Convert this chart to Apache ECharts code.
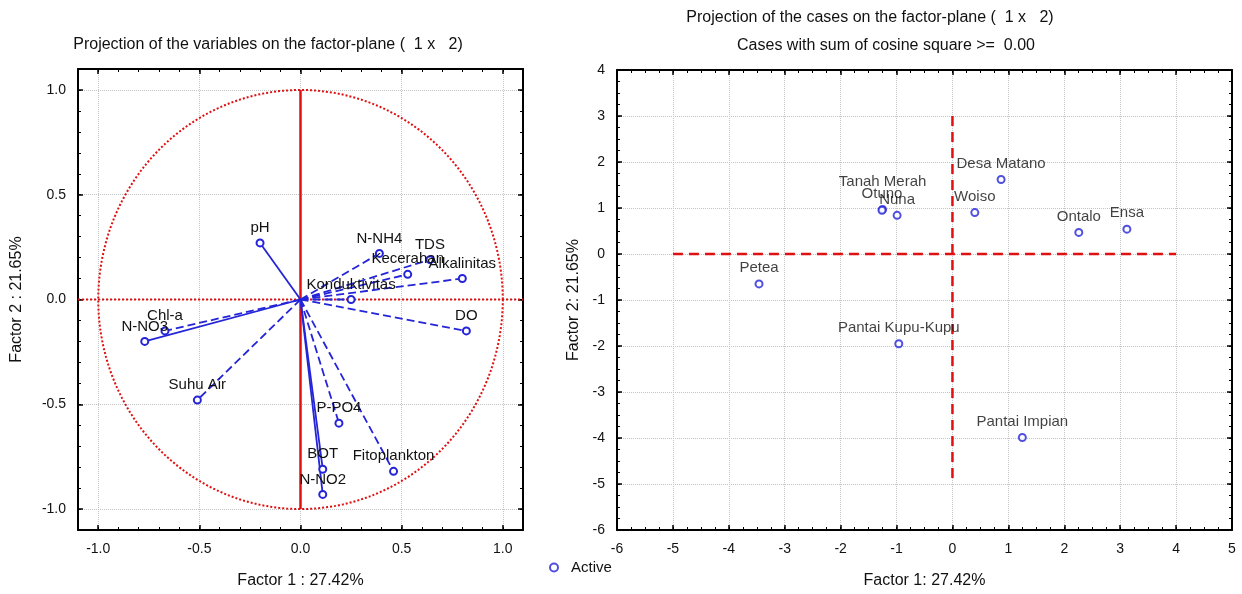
<!DOCTYPE html>
<html>
<head>
<meta charset="utf-8">
<script src="https://cdn.jsdelivr.net/npm/echarts@6/dist/echarts.min.js"></script>
<style>
  html, body { margin: 0; padding: 0; background: #fff; }
  #chart { width: 1242px; height: 594px; }
</style>
</head>
<body>
<div id="chart"></div>
<script>
// variables plot (factor loadings)
const varNames = ['pH', 'N-NH4', 'TDS', 'Kecerahan', 'Alkalinitas', 'Konduktivitas', 'DO',
  'Chl-a', 'N-NO3', 'Suhu Air', 'P-PO4', 'BOT', 'N-NO2', 'Fitoplankton'];
const varF1 = [-0.20, 0.39, 0.64, 0.53, 0.80, 0.25, 0.82, -0.67, -0.77, -0.51, 0.19, 0.11, 0.11, 0.46];
const varF2 = [0.27, 0.22, 0.19, 0.12, 0.10, 0.00, -0.15, -0.15, -0.20, -0.48, -0.59, -0.81, -0.93, -0.82];
const solidVars = ['pH', 'N-NO3', 'BOT', 'N-NO2'];

// cases plot (factor scores)
const caseNames = ['Desa Matano', 'Tanah Merah', 'Otuno', 'Nuna', 'Woiso', 'Ontalo', 'Ensa',
  'Petea', 'Pantai Kupu-Kupu', 'Pantai Impian'];
const caseF1 = [0.87, -1.25, -1.26, -0.99, 0.40, 2.26, 3.12, -3.46, -0.96, 1.25];
const caseF2 = [1.62, 0.97, 0.95, 0.84, 0.90, 0.47, 0.54, -0.65, -1.95, -3.99];

// tick labels
const loadTicks = [-1.0, -0.5, 0.0, 0.5, 1.0];
const caseXTicks = [-6, -5, -4, -3, -2, -1, 0, 1, 2, 3, 4, 5];
const caseYTicks = [-6, -5, -4, -3, -2, -1, 0, 1, 2, 3, 4];

const FONT = 'Liberation Sans';
const TXT = '#111';
const BLUE = '#2424d8';
const RED = '#e01010';

function steps(min, max, step) {
  const out = [];
  for (let v = min; v <= max + 1e-9; v += step) out.push(Math.round(v * 1000) / 1000);
  return out;
}

// four axes per dimension: main side (labels, grid lines), its minor ticks, opposite side major + minor
function frameAxes(dim, gi, min, max, majors, minorStep, fmt, name, nameGap) {
  const sides = dim === 'x' ? ['bottom', 'top'] : ['left', 'right'];
  const minors = steps(min, max, minorStep);
  const base = {
    type: 'value', gridIndex: gi, min: min, max: max,
    axisLine: { show: false, onZero: false },
    axisLabel: { show: false }, axisTick: { show: false }, splitLine: { show: false }
  };
  const frameLine = { show: true, onZero: false, lineStyle: { color: '#000', width: 2 } };
  const majorTick = { show: true, inside: true, length: 5, customValues: majors, lineStyle: { color: '#000', width: 1.5 } };
  const minorTick = { show: true, inside: true, length: 3, customValues: minors, lineStyle: { color: '#000', width: 1 } };
  return [
    Object.assign({}, base, {
      position: sides[0], name: name, nameLocation: 'middle', nameGap: nameGap,
      nameTextStyle: { fontFamily: FONT, fontSize: 16, color: TXT },
      axisLine: frameLine, axisTick: majorTick,
      axisLabel: { show: true, customValues: majors, formatter: fmt, margin: 12,
        fontFamily: FONT, fontSize: 14, color: TXT },
      splitLine: { show: true, lineStyle: { type: 'dotted', color: '#c4c4c4', width: 1 } }
    }),
    Object.assign({}, base, { position: sides[0], axisTick: minorTick }),
    Object.assign({}, base, { position: sides[1], axisLine: frameLine, axisTick: majorTick }),
    Object.assign({}, base, { position: sides[1], axisTick: minorTick })
  ];
}

const fmt1 = v => Number(v).toFixed(1);
const fmt0 = v => String(Math.round(v));

const xAxes = frameAxes('x', 0, -1.1, 1.1, loadTicks, 0.1, fmt1, 'Factor 1 : 27.42%', 43)
  .concat(frameAxes('x', 1, -6, 5, caseXTicks, 0.25, fmt0, 'Factor 1: 27.42%', 43));
const yAxes = frameAxes('y', 0, -1.1, 1.1, loadTicks, 0.1, fmt1, 'Factor 2 : 21.65%', 53)
  .concat(frameAxes('y', 1, -6, 4, caseYTicks, 0.25, fmt0, 'Factor 2: 21.65%', 35));

const labelStyle = { fontFamily: FONT, fontSize: 15, color: '#111' };

// loading vectors from origin
const vectorSeries = varNames.map((n, i) => ({
  type: 'line', name: n, xAxisIndex: 0, yAxisIndex: 0, z: 5,
  lineStyle: { color: BLUE, width: 1.8, type: solidVars.includes(n) ? 'solid' : [8, 4] },
  itemStyle: { color: BLUE, borderColor: BLUE, borderWidth: 1.3 },
  symbolSize: 7, showSymbol: true, silent: true,
  data: [
    { value: [0, 0], symbol: 'none' },
    { value: [varF1[i], varF2[i]], symbol: 'emptyCircle',
      label: Object.assign({ show: true, position: 'top', distance: 3, formatter: n }, labelStyle) }
  ]
}));

// unit circle
const circle = [];
for (let a = 0; a <= 360; a += 2) {
  circle.push([Math.cos(a * Math.PI / 180), Math.sin(a * Math.PI / 180)]);
}

const caseLabelOffset = { 'Tanah Merah': [0, -12] };

const option = {
  animation: false,
  backgroundColor: '#fff',
  grid: [
    { left: 78, top: 69, width: 445, height: 463 },
    { left: 617, top: 70, width: 615, height: 462 }
  ],
  xAxis: xAxes,
  yAxis: yAxes,
  legend: {
    data: [{ name: 'Active', icon: 'emptyCircle' }],
    left: 544, top: 555, itemWidth: 8, itemHeight: 8, itemGap: 6,
    textStyle: { fontFamily: FONT, fontSize: 15, color: TXT, padding: [0, 0, 0, 8] }
  },
  graphic: [
    { type: 'text', x: 268, y: 45, style: { text: 'Projection of the variables on the factor-plane (  1 x   2)',
      font: '16px "Liberation Sans"', fill: TXT, align: 'center', verticalAlign: 'middle' } },
    { type: 'text', x: 870, y: 18, style: { text: 'Projection of the cases on the factor-plane (  1 x   2)',
      font: '16px "Liberation Sans"', fill: TXT, align: 'center', verticalAlign: 'middle' } },
    { type: 'text', x: 886, y: 46, style: { text: 'Cases with sum of cosine square >=  0.00',
      font: '16px "Liberation Sans"', fill: TXT, align: 'center', verticalAlign: 'middle' } }
  ],
  series: [
    {
      type: 'line', xAxisIndex: 0, yAxisIndex: 0, data: circle, showSymbol: false, silent: true,
      lineStyle: { color: RED, width: 2, type: [2, 2] }, z: 3
    },
    {
      type: 'line', xAxisIndex: 0, yAxisIndex: 0, data: [[-1.1, 0], [1.1, 0]], showSymbol: false, silent: true,
      lineStyle: { color: RED, width: 2, type: [2, 2] }, z: 3
    },
    {
      type: 'line', xAxisIndex: 0, yAxisIndex: 0, data: [[0, -1], [0, 1]], showSymbol: false, silent: true,
      lineStyle: { color: RED, width: 2.5 }, z: 3
    },
    ...vectorSeries,
    {
      type: 'line', xAxisIndex: 4, yAxisIndex: 4, data: [[-5, 0], [4, 0]], showSymbol: false, silent: true,
      lineStyle: { color: RED, width: 2.5, type: [10, 6] }, z: 3
    },
    {
      type: 'line', xAxisIndex: 4, yAxisIndex: 4, data: [[0, 3], [0, -5]], showSymbol: false, silent: true,
      lineStyle: { color: RED, width: 2.5, type: [10, 6] }, z: 3
    },
    {
      type: 'scatter', name: 'Active', xAxisIndex: 4, yAxisIndex: 4, z: 5,
      symbol: 'emptyCircle', symbolSize: 7,
      itemStyle: { color: BLUE, borderColor: BLUE, borderWidth: 1.5 },
      data: caseNames.map((n, i) => ({
        name: n, value: [caseF1[i], caseF2[i]],
        label: Object.assign({ show: true, position: 'top', distance: 4, formatter: n,
          offset: caseLabelOffset[n] || [0, 0] }, labelStyle)
      }))
    }
  ]
};

const myChart = echarts.init(document.getElementById('chart'));
myChart.setOption(option);
</script>
</body>
</html>
